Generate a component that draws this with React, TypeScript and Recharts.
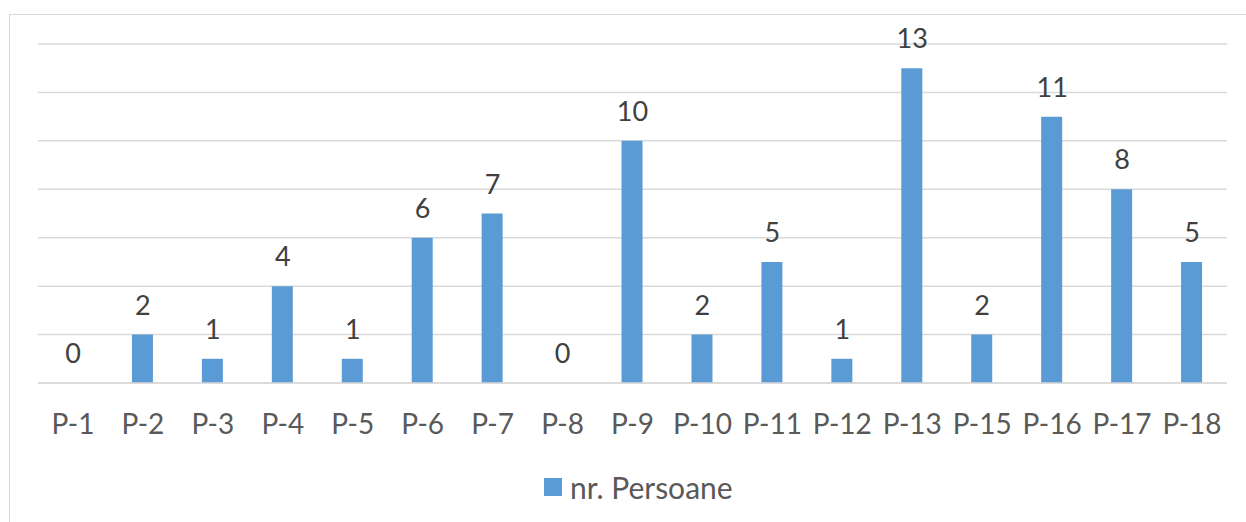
import React from "react";
import { ComposedChart, Bar, Line, XAxis, YAxis, CartesianGrid, Legend } from "recharts";

const categories = ["P-1", "P-2", "P-3", "P-4", "P-5", "P-6", "P-7", "P-8", "P-9", "P-10", "P-11", "P-12", "P-13", "P-15", "P-16", "P-17", "P-18"];
const persoane = [0, 2, 1, 4, 1, 6, 7, 0, 10, 2, 5, 1, 13, 2, 11, 8, 5];
const yTicks = [0, 2, 4, 6, 8, 10, 12, 14];

const data = categories.map((c, i) => ({ name: c, value: persoane[i] }));

const FONT = "Lato, 'Open Sans', sans-serif";
const BLUE = "#5B9BD5";

const LegendContent = () => (
  <div style={{ display: "flex", alignItems: "center", fontFamily: FONT, fontSize: 30, color: "#595959" }}>
    <span style={{ display: "inline-block", width: 18, height: 18, background: BLUE, marginRight: 8 }} />
    <span>nr. Persoane</span>
  </div>
);

const ValueLabel = (props: any) => {
  const { x, y, value } = props;
  if (x == null || y == null) return null;
  return (
    <text x={x} y={y - 20} textAnchor="middle" fill="#404040" fontSize={27} fontFamily={FONT}>
      {value}
    </text>
  );
};

export default function App() {
  return (
    <div style={{ position: "absolute", left: 0, top: 0, width: 1246, height: 522, background: "#fff", overflow: "hidden" }}>
      <div style={{ position: "absolute", left: 9, top: 14, width: 1300, height: 600, border: "1.5px solid #d9d9d9", boxSizing: "border-box" }} />
      <ComposedChart
        width={1246}
        height={522}
        data={data}
        margin={{ top: 44, right: 19, left: 38, bottom: 0 }}
        style={{ position: "absolute", left: 0, top: 0 }}
      >
        <CartesianGrid vertical={false} stroke="#d9d9d9" strokeWidth={1.5} />
        <YAxis hide width={0} domain={[0, 14]} ticks={yTicks} />
        <XAxis
          dataKey="name"
          height={139}
          interval={0}
          tickLine={false}
          tickSize={0}
          tickMargin={31}
          axisLine={{ stroke: "#d9d9d9", strokeWidth: 1.5 }}
          tick={{ fill: "#595959", fontSize: 28, fontFamily: FONT }}
        />
        <Legend
          verticalAlign="middle"
          align="center"
          layout="horizontal"
          content={<LegendContent />}
          wrapperStyle={{ top: 469, left: 544, width: 300 }}
        />
        <Bar dataKey="value" name="nr. Persoane" fill={BLUE} barSize={21} isAnimationActive={false} />
        <Line
          dataKey="value"
          stroke="none"
          dot={false}
          activeDot={false}
          legendType="none"
          isAnimationActive={false}
          label={<ValueLabel />}
        />
      </ComposedChart>
    </div>
  );
}
